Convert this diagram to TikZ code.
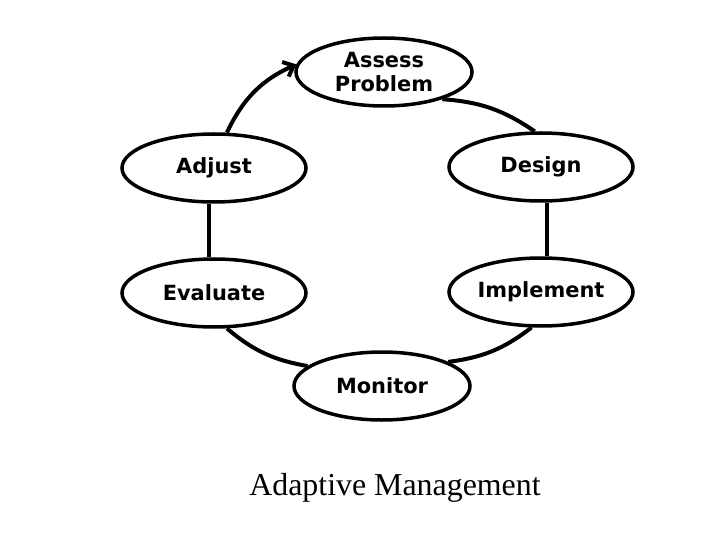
\documentclass[tikz,border=0pt]{standalone}
\usepackage{fontspec}
\setsansfont{DejaVu Sans}
\setmainfont{Liberation Serif}
\usetikzlibrary{arrows.meta,shapes.geometric}
\begin{document}
\begin{tikzpicture}[x=1bp,y=-1bp,
  stage/.style={draw,line width=3.5bp,ellipse,minimum width=#1,minimum height=68bp,inner sep=0pt,font=\sffamily\bfseries\fontsize{21}{24}\selectfont,align=center},
  link/.style={line width=4bp}]
\useasboundingbox (0,0) rectangle (720,540);
\node[stage=176bp] (assess) at (384,72) {Assess\\Problem};
\node[stage=184bp] (design) at (541,167) {Design};
\node[stage=184bp] (impl) at (541,292) {Implement};
\node[stage=176bp] (mon) at (382,386) {Monitor};
\node[stage=184bp] (eval) at (214,293) {Evaluate};
\node[stage=184bp] (adj) at (214,168) {Adjust};
\draw[link] (assess.-25) to[bend left=15] (design.100);
\draw[link] (design.-80) -- (impl.80);
\draw[link] (impl.-105) to[bend left=15] (mon.20);
\draw[link] (mon.165) to[bend left=15] (eval.-70);
\draw[link] (eval.98) -- (adj.-98);
\draw[link,-{Straight Barb[length=9bp,width=16bp]}] (adj.70) to[bend left=20] (assess.175);
\node[font=\fontsize{32}{36}\selectfont] (cap) at (395,488) {Adaptive Management};
\end{tikzpicture}
\end{document}
